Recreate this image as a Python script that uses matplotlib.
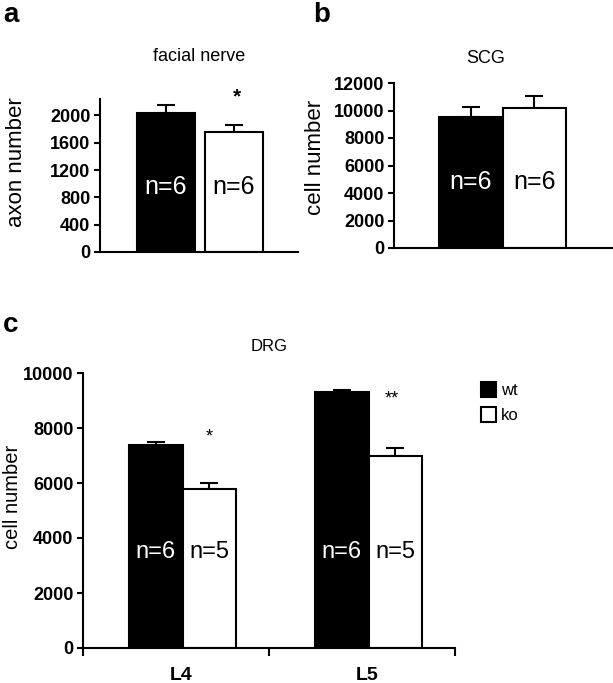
import matplotlib
matplotlib.use("Agg")
import matplotlib.pyplot as plt
import numpy as np

plt.rcParams['font.family'] = ['Liberation Sans', 'DejaVu Sans']

# ---- data ----
groups = ["wt", "ko"]
facial_vals = [2035, 1755]
facial_err = [110, 110]
facial_n = ["n=6", "n=6"]
facial_yticks = [0, 400, 800, 1200, 1600, 2000]

scg_vals = [9500, 10200]
scg_err = [730, 850]
scg_n = ["n=6", "n=6"]
scg_yticks = [0, 2000, 4000, 6000, 8000, 10000, 12000]

drg_cats = ["L4", "L5"]
drg_wt = [7390, 9310]
drg_wt_err = [100, 60]
drg_ko = [5780, 7000]
drg_ko_err = [230, 280]
drg_wt_n = ["n=6", "n=6"]
drg_ko_n = ["n=5", "n=5"]
drg_sig = ["*", "**"]
drg_yticks = [0, 2000, 4000, 6000, 8000, 10000]

W, H = 613, 683
fig = plt.figure(figsize=(W / 100, H / 100), dpi=100)

def px_axes(l, t, r, b):
    return fig.add_axes([l / W, 1 - b / H, (r - l) / W, (b - t) / H])

LW = 1.5
colors = ["black", "white"]
ncolors = ["white", "black"]

def style(ax, xticks=False):
    for s in ["top", "right"]:
        ax.spines[s].set_visible(False)
    for s in ["left", "bottom"]:
        ax.spines[s].set_linewidth(LW)
    ax.tick_params(axis="y", direction="out", length=4, width=LW, labelsize=13, pad=3)
    for lab in ax.get_yticklabels():
        lab.set_fontweight("bold")
    if not xticks:
        ax.tick_params(axis="x", length=0, labelbottom=False)

def draw_bars(ax, x, vals, errs, width, fcolors):
    ax.bar(x, vals, width=width, color=fcolors, edgecolor="black", linewidth=LW, zorder=2)
    ax.errorbar(x, vals, yerr=[np.zeros(len(vals)), errs], fmt="none", ecolor="black",
                elinewidth=LW, capsize=6.5, capthick=LW, zorder=1)

# ---- panel a ----
axa = px_axes(100, 99, 298, 252)
xa = np.arange(len(groups))
draw_bars(axa, xa, facial_vals, facial_err, 0.853, colors)
axa.set_xlim(-0.97, 1.94)
axa.set_ylim(0, 2240)
axa.set_yticks(facial_yticks)
style(axa)
axa.set_ylabel("axon number", fontsize=16)
axa.yaxis.set_label_coords(-0.369, 0.588)
axa.set_title("facial nerve", fontsize=13, pad=27.5)
for xi, t, c in zip(xa, facial_n, ncolors):
    axa.text(xi, 950, t, color=c, ha="center", va="center", fontsize=18)
axa.text(xa[1] + 0.05, facial_vals[1] + facial_err[1] + 260, "*", ha="center", va="bottom",
         fontsize=15, fontweight="bold")
fig.text(3 / W, 1 - 15 / H, "a", fontsize=20, fontweight="bold", va="center", ha="left")

# ---- panel b ----
axb = px_axes(394, 83, 613, 248)
xb = np.arange(len(groups))
draw_bars(axb, xb, scg_vals, scg_err, 1.0, colors)
axb.set_xlim(-1.21, 2.24)
axb.set_ylim(0, 12000)
axb.set_yticks(scg_yticks)
style(axb)
axb.set_ylabel("cell number", fontsize=16)
axb.yaxis.set_label_coords(-0.311, 0.548)
axb.set_title("SCG", fontsize=13, pad=14.5, x=0.42)
for xi, t, c in zip(xb, scg_n, ncolors):
    axb.text(xi, 4800, t, color=c, ha="center", va="center", fontsize=18)
fig.text(313 / W, 1 - 15 / H, "b", fontsize=20, fontweight="bold", va="center", ha="left")

# ---- panel c ----
axc = px_axes(83, 373, 455, 648)
xc = np.arange(len(drg_cats))
bw = 0.29
draw_bars(axc, xc + 0.39, drg_wt, drg_wt_err, bw, "black")
draw_bars(axc, xc + 0.68, drg_ko, drg_ko_err, bw, "white")
axc.set_xlim(0, 2)
axc.set_ylim(0, 10000)
axc.set_yticks(drg_yticks)
style(axc, xticks=True)
axc.set_xticks([0, 1, 2])
axc.set_xticks(xc + 0.53, minor=True)
axc.set_xticklabels(["", "", ""])
axc.set_xticklabels(drg_cats, minor=True, fontsize=14, fontweight="bold")
axc.tick_params(axis="x", which="major", direction="out", length=6, width=LW)
axc.tick_params(axis="x", which="minor", length=0, pad=14)
axc.set_ylabel("cell number", fontsize=14.5)
axc.yaxis.set_label_coords(-0.164, 0.549)
axc.set_title("DRG", fontsize=12, pad=16)
for xi in xc:
    axc.text(xi + 0.39, 3500, drg_wt_n[xi], color="white", ha="center", va="center", fontsize=17)
    axc.text(xi + 0.68, 3500, drg_ko_n[xi], color="black", ha="center", va="center", fontsize=17)
    axc.text(xi + 0.68 - (0.0 if xi == 0 else 0.02),
             drg_ko[xi] + drg_ko_err[xi] + (1340 if xi == 0 else 1450), drg_sig[xi],
             ha="center", va="bottom", fontsize=13)
fig.text(3 / W, 1 - 325 / H, "c", fontsize=20, fontweight="bold", va="center", ha="left")

# legend
from matplotlib.patches import Patch
handles = [Patch(facecolor="black", edgecolor="black", linewidth=LW),
           Patch(facecolor="white", edgecolor="black", linewidth=LW)]
fig.legend(handles, groups, loc="upper left", bbox_to_anchor=(474 / W, 1 - 375 / H),
           frameon=False, fontsize=12, handlelength=0.9, handleheight=1.0,
           handletextpad=0.3, labelspacing=0.55, borderaxespad=0)

fig.savefig("out.png", dpi=100)
